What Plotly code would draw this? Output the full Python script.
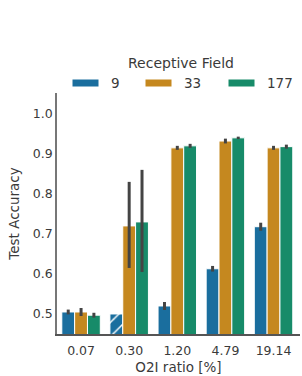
import plotly.graph_objects as go

categories = ["0.07", "0.30", "1.20", "4.79", "19.14"]
series_names = ["9", "33", "177"]
colors = ["#1a6e9e", "#c5881f", "#178b69"]

vals_9 = [0.505, 0.500, 0.520, 0.613, 0.718]
vals_33 = [0.505, 0.720, 0.915, 0.932, 0.915]
vals_177 = [0.497, 0.730, 0.920, 0.940, 0.918]

err_up_9 = [0.006, 0.0, 0.010, 0.007, 0.010]
err_dn_9 = [0.006, 0.0, 0.010, 0.007, 0.010]
err_up_33 = [0.010, 0.110, 0.005, 0.006, 0.005]
err_dn_33 = [0.010, 0.105, 0.005, 0.006, 0.005]
err_up_177 = [0.006, 0.130, 0.005, 0.003, 0.005]
err_dn_177 = [0.006, 0.125, 0.005, 0.003, 0.005]

hatch_9 = ["", "/", "", "", ""]

values = [vals_9, vals_33, vals_177]
ups = [err_up_9, err_up_33, err_up_177]
dns = [err_dn_9, err_dn_33, err_dn_177]

FONT = "DejaVu Sans"
TXT = "#3a3a3a"

fig = go.Figure()
for i, name in enumerate(series_names):
    marker = dict(color=colors[i], line=dict(color="white", width=1))
    if i == 0:
        marker["pattern"] = dict(shape=hatch_9, fgcolor="white", bgcolor=colors[i],
                                 size=10, solidity=0.15, fillmode="replace")
    fig.add_trace(go.Bar(
        x=categories, y=values[i], name=name, marker=marker,
        error_y=dict(type="data", symmetric=False, array=ups[i], arrayminus=dns[i],
                     color="#444444", thickness=3, width=0),
        showlegend=False,
    ))

L, R, T, B = 57, 2, 93, 42
W, H = 302, 376
pw = W - L - R
ph = H - T - B

def px_x(x):
    return (x - L) / pw

def px_y(y):
    return (H - B - y) / ph

# manual legend
leg_patch_x = [72, 145, 228]
leg_text_x = [109, 182, 265]
for i, name in enumerate(series_names):
    fig.add_shape(type="rect", xref="paper", yref="paper",
                  x0=px_x(leg_patch_x[i]), x1=px_x(leg_patch_x[i] + 27),
                  y0=px_y(87), y1=px_y(79),
                  fillcolor=colors[i], line=dict(color="white", width=1))
    fig.add_annotation(xref="paper", yref="paper", x=px_x(leg_text_x[i]), y=px_y(83),
                       text=name, showarrow=False, xanchor="left", yanchor="middle",
                       font=dict(family=FONT, size=13.5, color=TXT))
fig.add_annotation(xref="paper", yref="paper", x=px_x(181), y=px_y(63),
                   text="Receptive Field", showarrow=False, xanchor="center", yanchor="middle",
                   font=dict(family=FONT, size=14, color=TXT))

fig.update_layout(
    width=W, height=H,
    margin=dict(l=L, r=R, t=T, b=B),
    paper_bgcolor="white", plot_bgcolor="white",
    barmode="group", bargap=0.2, bargroupgap=0,
    font=dict(family=FONT, size=13, color=TXT),
    xaxis=dict(
        title=dict(text="O2I ratio [%]", font=dict(size=13.5, color=TXT), standoff=6),
        showgrid=False, showline=True, linecolor="#555555", linewidth=1.5,
        ticks="", tickfont=dict(size=12.5, color=TXT), range=[-0.5, 4.55],
        ticklabelstandoff=4,
    ),
    yaxis=dict(
        title=dict(text="Test Accuracy", font=dict(size=13.5, color=TXT), standoff=10),
        showgrid=False, showline=True, linecolor="#777777", linewidth=1.5,
        ticks="", tickfont=dict(size=12.5, color=TXT), range=[0.45, 1.052],
        tickvals=[0.5, 0.6, 0.7, 0.8, 0.9, 1.0], ticktext=["0.5", "0.6", "0.7", "0.8", "0.9", "1.0"],
        zeroline=False,
    ),
)

fig.write_html("out.html", config={"displayModeBar": False},
               post_script="document.body.style.margin='0';document.body.style.overflow='hidden';")
